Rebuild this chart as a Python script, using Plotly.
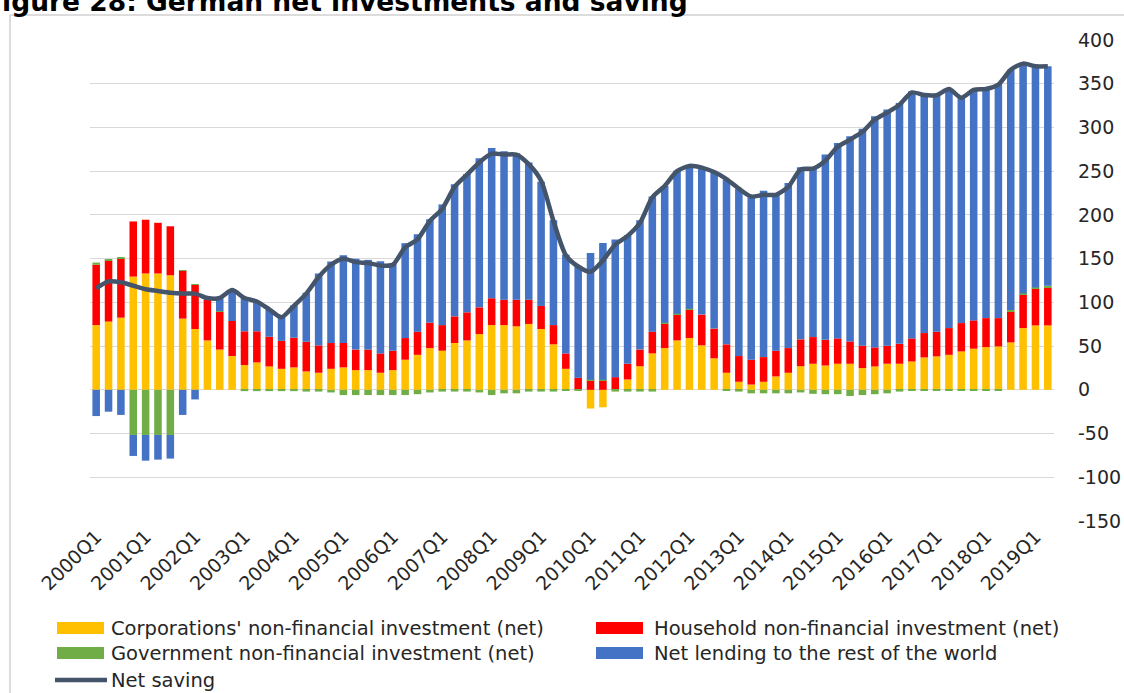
import plotly.graph_objects as go

quarters = [f"{y}Q{q}" for y in range(2000, 2020) for q in range(1, 5)][:78]
tick_labels = quarters[::4]
y_ticks = [-150, -100, -50, 0, 50, 100, 150, 200, 250, 300, 350, 400]
y_tick_text = ["-150", "-100", "-50", "0", "50", "100", "150", "200", "250", "300", "350", "400"]

corporations = [74, 78, 82.5, 129.5, 133, 133, 131, 81.4, 69.5, 56.5,
                46, 38.6, 28.3, 31.3, 26.7, 24, 25.6, 21, 19.5, 24,
                25.6, 22.5, 22.5, 19.5, 22.5, 34.4, 40, 47.7, 44.7, 53.5,
                56.5, 63.8, 74, 74, 72.6, 75.3, 69.5, 52, 24, 0,
                -21.4, -20, 0, 11.8, 27, 41.6, 47.7, 56.5, 59.2, 50.8,
                36, 19.5, 9.2, 6, 9.2, 15.3, 19.5, 27, 29.8, 27.8,
                29.8, 29.8, 24.8, 26.7, 29.8, 29.8, 32.4, 37, 38.2, 40,
                43.9, 47, 48.8, 49.6, 54.2, 70.6, 73.6, 73.6]
households = [69, 70, 68, 63, 61.5, 58, 56, 54.6, 50.5, 46.3,
              43, 40.1, 38.6, 35.6, 34, 32, 34, 34, 31.3, 29.5,
              28, 23.5, 23.5, 22.1, 22.2, 24.8, 26.5, 29.1, 29.3, 30.5,
              32.1, 30.5, 30.7, 29, 30.4, 27.7, 26.4, 22, 17.6, 13.7,
              11, 11, 14.5, 18, 19, 24.9, 27.9, 29.5, 32.5, 35.2,
              34, 32.5, 29.4, 28.4, 28.2, 29.4, 28.2, 30.7, 30.5, 29.4,
              29, 25.5, 25.6, 21.8, 20.6, 22.8, 26.4, 27.9, 28.2, 30.6,
              32.4, 32.4, 33.2, 32.4, 35.5, 38.1, 42.4, 43.4]
government = [2.5, 1, 1, -51.6, -51.6, -51.6, -51.6, 1, 1, 0,
              1, 0, -1.5, -1.5, -1.5, -1.5, -1.5, -2, -2, -3,
              -6, -6, -6, -6, -6, -6, -5, -3, -2, -2,
              -2, -3, -6, -4, -4, -2, -2, -2, -1, -1,
              0.5, 0.5, -2, -2, -2, -2, 1.2, 1, 1.1, 0,
              0, -1, -2, -4, -4, -4, -4, -3, -4.6, -5,
              -5, -7, -6, -5, -4, -2, -1, -1, -1, -1,
              -1, -1, -1, -1, 1.5, 1.3, 1, 2]
net_lending = [-30, -25, -28.7, -24, -29.4, -28.2, -27, -28.7, -11, 1.5,
               14.7, 35.3, 38.5, 33.9, 31.3, 27, 37, 56, 82.2, 93.2,
               100.4, 104, 102.6, 105.4, 100.1, 108.5, 111.5, 118.2, 138, 151,
               158.2, 170.4, 171.9, 169.7, 167.5, 157, 142.1, 120, 113, 128,
               145, 156.5, 157.5, 147, 148, 154.5, 156.2, 163.6, 163.2, 166.5,
               178, 188, 191, 185.6, 190.3, 178, 188.8, 196.7, 193.4, 211.8,
               223.5, 234.7, 248, 264.3, 270, 275.4, 282.6, 271.6, 270.1, 273.4,
               259.4, 264, 262, 267, 274.8, 263, 253, 251]
net_saving = [116, 124, 123, 119, 115, 113, 111, 110, 110, 105,
              105, 114, 105, 101, 92, 83, 96, 110, 129, 143,
              150, 146, 145, 142, 143, 163, 172, 193, 207, 232,
              246, 260, 270, 269, 269, 258, 239, 193, 154, 141,
              135, 148, 166, 176, 191, 220, 233, 250, 256, 254,
              249, 241, 230, 221, 223, 223, 232, 252, 253, 262,
              278, 286, 295, 309, 317, 326, 340, 337, 337, 344,
              334, 343, 344, 349, 366, 373, 370, 370]

series_names = ["Corporations' non-financial investment (net)",
                "Household non-financial investment (net)",
                "Government non-financial investment (net)",
                "Net lending to the rest of the world",
                "Net saving"]

C_CORP = "#FFC000"
C_HH = "#FF0000"
C_GOV = "#70AD47"
C_LEND = "#4472C4"
C_LINE = "#44546A"

W, H = 1124, 693
L, R, T, B = 90, 70, 40, 172
PW, PH = W - L - R, H - T - B


def px(xp):
    return (xp - L) / PW


def py(yp):
    return (H - B - yp) / PH


fig = go.Figure()
for vals, col, nm in [(corporations, C_CORP, series_names[0]),
                      (households, C_HH, series_names[1]),
                      (government, C_GOV, series_names[2]),
                      (net_lending, C_LEND, series_names[3])]:
    fig.add_trace(go.Bar(x=quarters, y=vals, name=nm, marker_color=col,
                         marker_line_width=0, showlegend=False))
fig.add_trace(go.Scatter(x=quarters, y=net_saving, name=series_names[4], mode="lines",
                         line=dict(color=C_LINE, width=4.5, shape="spline", smoothing=0.7),
                         showlegend=False))

font_family = "DejaVu Sans, Verdana, sans-serif"
txt_col = "#262626"

shapes = [
    dict(type="line", xref="paper", yref="paper", x0=px(10), x1=px(10), y0=py(15), y1=py(700),
         line=dict(color="#D0D0D0", width=1.5)),
    dict(type="line", xref="paper", yref="paper", x0=px(10), x1=px(1130), y0=py(15), y1=py(15),
         line=dict(color="#D0D0D0", width=1.5)),
]
annotations = [
    dict(text="<b>Figure 28: German net investments and saving</b>", xref="paper", yref="paper",
         x=px(-18), y=py(19), xanchor="left", yanchor="bottom", showarrow=False,
         font=dict(family=font_family, size=26.5, color="#000000")),
]

legend_items = [
    (57, 111, 628, "bar", C_CORP, series_names[0]),
    (596, 654, 628, "bar", C_HH, series_names[1]),
    (57, 111, 653, "bar", C_GOV, series_names[2]),
    (596, 654, 653, "bar", C_LEND, series_names[3]),
    (55, 111, 680, "line", C_LINE, series_names[4]),
]
for x0, xt, yc, kind, col, nm in legend_items:
    if kind == "bar":
        shapes.append(dict(type="rect", xref="paper", yref="paper", x0=px(x0), x1=px(x0 + 47),
                           y0=py(yc - 6), y1=py(yc + 6), fillcolor=col, line=dict(width=0)))
    else:
        shapes.append(dict(type="line", xref="paper", yref="paper", x0=px(x0), x1=px(x0 + 52),
                           y0=py(yc), y1=py(yc), line=dict(color=col, width=4.5)))
    annotations.append(dict(text=nm, xref="paper", yref="paper", x=px(xt - 2), y=py(yc),
                            xanchor="left", yanchor="middle", showarrow=False,
                            font=dict(family=font_family, size=19.5, color=txt_col)))

fig.update_layout(
    width=W, height=H,
    margin=dict(l=L, r=R, t=T, b=B, pad=0, autoexpand=False),
    paper_bgcolor="white", plot_bgcolor="white",
    barmode="relative", bargap=0.39,
    font=dict(family=font_family, size=19, color=txt_col),
    shapes=shapes, annotations=annotations,
    showlegend=False,
    xaxis=dict(type="category", categoryorder="array", categoryarray=quarters,
               tickmode="array", tickvals=tick_labels, ticktext=tick_labels,
               tickangle=-45, showgrid=False, zeroline=False, showline=False,
               ticks="", automargin=False, tickfont=dict(size=19, color=txt_col)),
    yaxis=dict(side="right", range=[-150, 400], tickmode="array", tickvals=y_ticks,
               ticktext=y_tick_text, showgrid=True,
               gridcolor="#D9D9D9", gridwidth=1, zeroline=False, showline=False,
               ticks="", automargin=False, ticklabelstandoff=23,
               tickfont=dict(size=19, color=txt_col)),
)

fig.write_html("out.html", config={"displayModeBar": False},
               post_script="document.body.style.margin='0';")
